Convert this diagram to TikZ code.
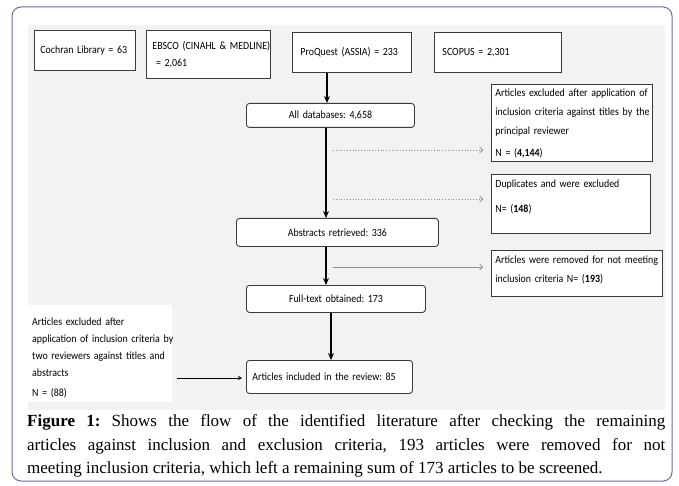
\documentclass[tikz,border=0pt]{standalone}
\usepackage{fontspec}
\setmainfont{Liberation Serif}
\newfontfamily\calf[FakeStretch=0.9,WordSpace=0.5]{Carlito}
\usetikzlibrary{arrows.meta,calc}
\definecolor{framec}{HTML}{7068B0}
\definecolor{panelc}{HTML}{F2F2F2}
\definecolor{boxc}{HTML}{3A3A3A}
\definecolor{dotc}{HTML}{8A8A8A}
\begin{document}
\frenchspacing
\begin{tikzpicture}[x=1pt,y=-1pt,
  sqbox/.style={draw=boxc, fill=white, line width=0.9pt, inner ysep=0pt, inner xsep=6pt,
    anchor=north west, align=left, font=\calf\fontsize{11}{17}\selectfont},
  rdbox/.style={sqbox, rounded corners=3pt, align=center},
  mainarrow/.style={line width=1.4pt, -{Stealth[length=7pt,width=6pt]}},
  dotarrow/.style={dotc, line width=0.8pt, dotted, -{Straight Barb[length=3pt,width=6pt,line width=0.7pt]}},
  thinarrow/.style={dotc, line width=0.8pt, -{Straight Barb[length=3pt,width=6pt,line width=0.7pt]}},
  leftarrow/.style={black, line width=0.8pt, -{Stealth[length=4pt,width=4pt]}},
  captxt/.style={anchor=base west, inner sep=0pt, font=\fontsize{17}{23.5}\selectfont}
]
\useasboundingbox (0,0) rectangle (679,486);
\fill[white] (0,0) rectangle (679,486);
\draw[framec, line width=1pt, rounded corners=9pt] (12,7) rectangle (672,481);
\fill[panelc] (28,25) rectangle (665,410);

% top database boxes
\node[sqbox, text width=89pt, minimum height=40pt] (coch) at (34,30) {\mbox{Cochran Library = 63}};
\node[sqbox, text width=112pt, minimum height=48pt] (ebsco) at (146,30) {\mbox{EBSCO (CINAHL \& MEDLINE)}\\ \ = 2,061};
\node[sqbox, text width=103pt, inner xsep=8pt, minimum height=40pt] (proq) at (292,32) {\mbox{ProQuest (ASSIA) = 233}};
\node[sqbox, text width=111pt, inner xsep=8pt, minimum height=40pt] (scop) at (434,32) {SCOPUS = 2,301};

% main flow
\node[rdbox, text width=156pt, minimum height=24pt] (alldb) at (246,103) {All databases: 4,658};
\node[rdbox, text width=190pt, minimum height=28pt] (abst) at (236,218) {Abstracts retrieved: 336};
\node[rdbox, text width=167pt, minimum height=27pt] (full) at (246,285) {Full-text obtained: 173};
\node[sqbox, rounded corners=3pt, text width=154pt, minimum height=33pt] (incl) at (246,360) {\mbox{Articles included in the review: 85}};

% right exclusion boxes
\node[sqbox, inner xsep=4pt, text width=153pt, minimum height=77pt] (rb1) at (491,84)
  {\vbox to 73pt{\baselineskip=19pt\vskip2pt\hbox{Articles excluded after application of}\hbox{inclusion criteria against titles by the}\hbox{principal reviewer}\vskip3pt\hbox{N = (\textbf{4,144})}\vfil}};
\node[sqbox, inner xsep=4pt, text width=151pt, minimum height=59pt] (rb2) at (491,174)
  {\vbox to 55pt{\vskip3pt\hbox{Duplicates and were excluded}\vskip8pt\hbox{N= (\textbf{148})}\vfil}};
\node[sqbox, inner xsep=4pt, text width=163pt, minimum height=46pt] (rb3) at (491,250)
  {\vbox to 42pt{\baselineskip=19pt\vskip3pt\hbox{Articles were removed for not meeting}\hbox{inclusion criteria N= (\textbf{193})}\vfil}};

% left text block
\node[fill=white, anchor=north west, inner xsep=4pt, inner ysep=4pt, text width=136pt, minimum height=97pt,
  align=left, font=\calf\fontsize{11}{17}\selectfont] (lb) at (28,305)
  {\vbox to 89pt{\vskip9pt\hbox{Articles excluded after}\hbox{application of inclusion criteria by}\hbox{two reviewers against titles and}\hbox{abstracts}\vskip3pt\hbox{N = (88)}\vfil}};

% coordinates for connectors
\coordinate (xa) at (327,0);
\coordinate (xb) at (326,0);
\coordinate (xc) at (331,0);
\coordinate (d1) at (333,150);
\coordinate (d2) at (333,199);
\coordinate (d3) at (333,267);
\coordinate (l1) at (177,378);

\draw[mainarrow] (proq.south -| xa) -- (alldb.north -| xa);
\draw[mainarrow] (alldb.south -| xb) -- (abst.north -| xb);
\draw[mainarrow] (abst.south -| xb) -- (full.north -| xb);
\draw[mainarrow] (full.south -| xc) -- (incl.north -| xc);
\draw[dotarrow] (d1) -- ($(rb1.west |- d1)+(-8,0)$);
\draw[dotarrow] (d2) -- ($(rb2.west |- d2)+(-8,0)$);
\draw[thinarrow] (d3) -- ($(rb3.west |- d3)+(-8,0)$);
\draw[leftarrow] (l1) -- ($(incl.west |- l1)+(-4,0)$);

% caption
\node[captxt] (cap1) at (27,426) {\makebox[638pt][s]{\textbf{Figure 1:} Shows the flow of the identified literature after checking the remaining}};
\node[captxt] (cap2) at (27,450) {\makebox[638pt][s]{articles against inclusion and exclusion criteria, 193 articles were removed for not}};
\node[captxt] (cap3) at (27,473) {meeting inclusion criteria, which left a remaining sum of 173 articles to be screened.};
\end{tikzpicture}
\end{document}
